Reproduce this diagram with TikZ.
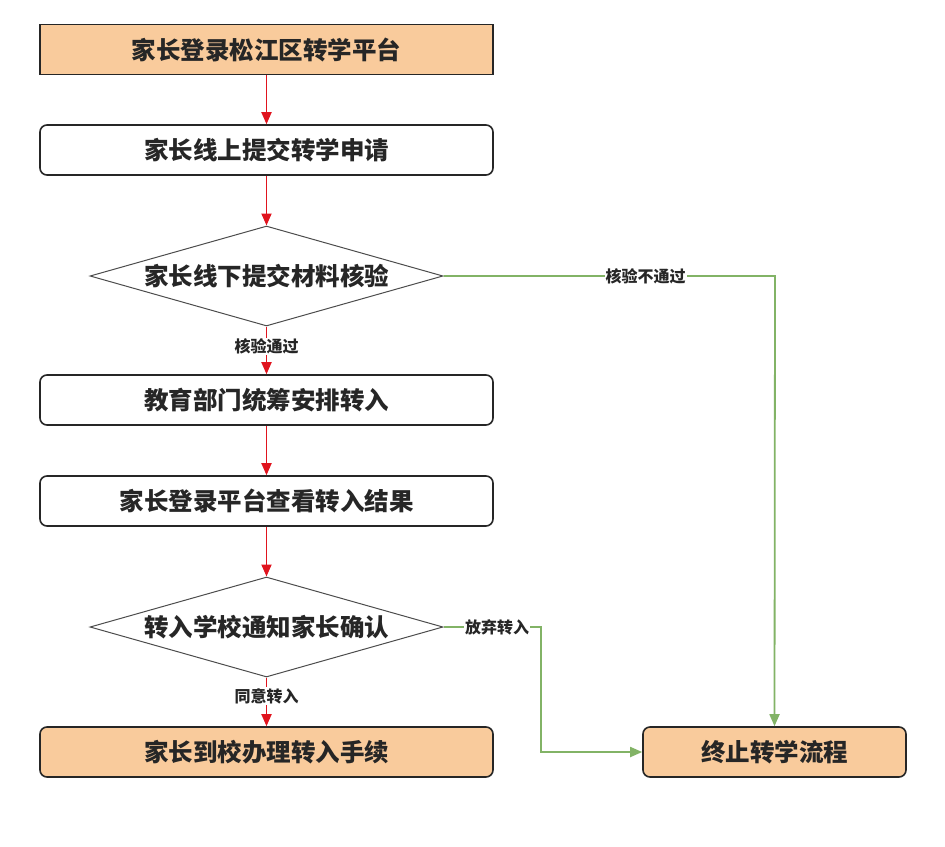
\documentclass[tikz,border=0pt]{standalone}
\usepackage{fontspec}
\setmainfont{Noto Sans CJK SC}
\usetikzlibrary{shapes.geometric,arrows.meta}
\definecolor{orfill}{HTML}{F9CB9C}
\definecolor{grn}{HTML}{82B366}
\definecolor{redl}{HTML}{E0141E}
\tikzset{
  box/.style={draw=black!85, line width=1.6pt, minimum width=453pt, minimum height=50pt, inner sep=0pt, font=\fontsize{24.5}{28}\selectfont\bfseries, text=black!85},
  rbox/.style={box, rounded corners=7pt},
  obox/.style={fill=orfill},
  dia/.style={draw=black!70, line width=1pt, diamond, aspect=3.53, minimum width=353pt, minimum height=100pt, inner sep=0pt, font=\fontsize{24.5}{28}\selectfont\bfseries, text=black!85},
  redarr/.style={draw=redl, line width=1.8pt, -{Triangle[length=12pt,width=10pt]}},
  grnarr/.style={draw=grn, line width=1.8pt, -{Triangle[length=12pt,width=10pt]}},
  lbl/.style={fill=white, inner sep=1pt, font=\fontsize{16}{18}\selectfont\bfseries, text=black!85}
}
\begin{document}
\begin{tikzpicture}[x=1pt,y=-1pt]
\useasboundingbox (0,0) rectangle (945,846);
\node[box,obox] (b1) at (266.5,49.5) {家长登录松江区转学平台};
\node[rbox] (b2) at (266.5,150) {家长线上提交转学申请};
\node[dia] (d1) at (266.5,276) {家长线下提交材料核验};
\node[rbox] (b3) at (266.5,400) {教育部门统筹安排转入};
\node[rbox] (b4) at (266.5,501) {家长登录平台查看转入结果};
\node[dia] (d2) at (266.5,627) {转入学校通知家长确认};
\node[rbox,obox] (b5) at (266.5,752) {家长到校办理转入手续};
\node[rbox,obox,minimum width=263pt] (e) at (774.5,752) {终止转学流程};
\coordinate (c1) at (775,276);
\coordinate (c2) at (541,627);
\coordinate (c3) at (541,752);
\draw[redarr] (b1) -- (b2);
\draw[redarr] (b2) -- (d1);
\draw[redarr] (d1) -- node[lbl,pos=0.42]{核验通过} (b3);
\draw[redarr] (b3) -- (b4);
\draw[redarr] (b4) -- (d2);
\draw[redarr] (d2) -- node[lbl,pos=0.38]{同意转入} (b5);
\draw[grnarr] (d1.east) -- node[lbl,pos=0.61]{核验不通过} (c1) -- (e.north);
\draw[grnarr] (d2.east) -- node[lbl,pos=0.55]{放弃转入} (c2) -- (c3) -- (e.west);
\end{tikzpicture}
\end{document}
